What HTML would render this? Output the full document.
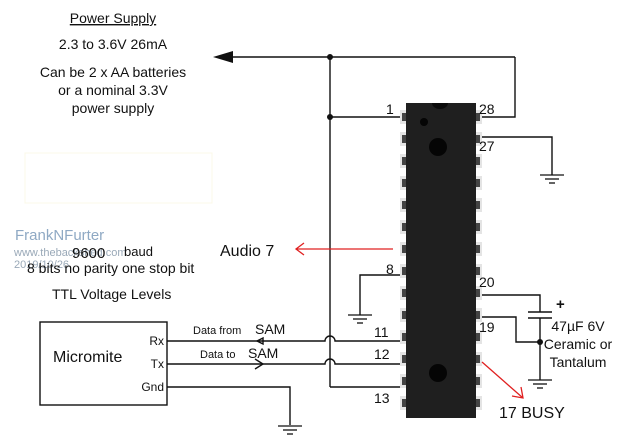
<!DOCTYPE html>
<html><head><style>body{margin:0;background:#fff}svg{display:block}text{font-family:"Liberation Sans",Arial,sans-serif;fill:#111}</style></head>
<body>
<svg width="640" height="448" viewBox="0 0 640 448" xmlns="http://www.w3.org/2000/svg">
<defs>
<g id="gnd"><line x1="-12" y1="0" x2="12" y2="0" stroke="#111" stroke-width="1.3"/><line x1="-7" y1="4" x2="7" y2="4" stroke="#111" stroke-width="1.3"/><line x1="-3" y1="8" x2="3" y2="8" stroke="#111" stroke-width="1.3"/></g>
<g id="pin"><rect x="0" y="0" width="6" height="14" fill="#e4e4e4"/><rect x="2" y="3" width="4" height="8" fill="#444"/></g>
<g id="pinr"><rect x="0" y="0" width="6" height="14" fill="#e4e4e4"/><rect x="0" y="3" width="4" height="8" fill="#444"/></g>
</defs>
<g font-size="14" text-anchor="middle">
<text x="113" y="23" text-decoration="underline">Power Supply</text>
<text x="113" y="49">2.3 to 3.6V 26mA</text>
<text x="113" y="77">Can be 2 x AA batteries</text>
<text x="113" y="95">or a nominal 3.3V</text>
<text x="113" y="113">power supply</text>
</g>
<rect x="25" y="153" width="187" height="50" fill="none" stroke="#fbf8e8"/>
<text x="15" y="240" font-size="15" style="fill:#8fa9c4">FrankNFurter</text>
<text x="14" y="256" font-size="11" style="fill:#9aa9b8">www.thebackshed.com</text>
<text x="14" y="268" font-size="11" style="fill:#9aa9b8">2019/10/26</text>
<text x="72" y="258" font-size="15">9600</text>
<text x="124" y="256" font-size="13">baud</text>
<text x="27" y="273" font-size="14">8 bits no parity one stop bit</text>
<text x="52" y="299" font-size="14">TTL Voltage Levels</text>
<text x="220" y="256" font-size="16">Audio 7</text>
<g stroke="#111" stroke-width="1.4" fill="none">
<line x1="232" y1="57" x2="515" y2="57"/>
<polyline points="515,57 515,117 478,117"/>
<line x1="330" y1="57" x2="330" y2="387"/>
<line x1="330" y1="117" x2="400" y2="117"/>
<polyline points="330,387 400,387"/>
<polyline points="478,137 552,137 552,175"/>
<polyline points="400,275 360,275 360,315"/>
<polyline points="478,295 540,295 540,312"/>
<line x1="528" y1="312" x2="552" y2="312"/>
<line x1="528" y1="318" x2="552" y2="318"/>
<polyline points="540,318 540,380"/>
<polyline points="478,317 516,317 516,342 540,342"/>
<rect x="40" y="322" width="127" height="83"/>
<path d="M167,341 H325 A5,5 0 0 1 335,341 H400"/>
<path d="M167,364 H325 A5,5 0 0 1 335,364 H400"/>
<polyline points="167,387 290,387 290,425"/>
<polyline points="255,359 263,364 255,369"/>
<polygon points="263,338 257,341 263,344"/>
</g>
<polygon points="213,57 233,51 233,63" fill="#111"/>
<circle cx="330" cy="57" r="3" fill="#111"/><circle cx="330" cy="117" r="3" fill="#111"/><circle cx="540" cy="342" r="3" fill="#111"/>
<use href="#gnd" x="552" y="175"/><use href="#gnd" x="360" y="315"/><use href="#gnd" x="540" y="380"/><use href="#gnd" x="290" y="426"/>
<text x="556" y="309" font-size="15" font-weight="bold">+</text>
<g font-size="14" text-anchor="middle"><text x="578" y="331">47µF 6V</text><text x="578" y="349">Ceramic or</text><text x="578" y="367">Tantalum</text></g>
<text x="53" y="362" font-size="16">Micromite</text>
<g font-size="12" text-anchor="end"><text x="164" y="345">Rx</text><text x="164" y="368">Tx</text><text x="164" y="391">Gnd</text></g>
<text x="193" y="334" font-size="11">Data from</text><text x="255" y="334" font-size="14">SAM</text>
<text x="200" y="358" font-size="11">Data to</text><text x="248" y="358" font-size="14">SAM</text>
<!-- chip pins -->
<g>
<use href="#pin" x="400" y="110"/><use href="#pin" x="400" y="132"/><use href="#pin" x="400" y="154"/><use href="#pin" x="400" y="176"/><use href="#pin" x="400" y="198"/><use href="#pin" x="400" y="220"/><use href="#pin" x="400" y="242"/><use href="#pin" x="400" y="264"/><use href="#pin" x="400" y="286"/><use href="#pin" x="400" y="308"/><use href="#pin" x="400" y="330"/><use href="#pin" x="400" y="352"/><use href="#pin" x="400" y="374"/><use href="#pin" x="400" y="396"/>
<use href="#pinr" x="476" y="110"/><use href="#pinr" x="476" y="132"/><use href="#pinr" x="476" y="154"/><use href="#pinr" x="476" y="176"/><use href="#pinr" x="476" y="198"/><use href="#pinr" x="476" y="220"/><use href="#pinr" x="476" y="242"/><use href="#pinr" x="476" y="264"/><use href="#pinr" x="476" y="286"/><use href="#pinr" x="476" y="308"/><use href="#pinr" x="476" y="330"/><use href="#pinr" x="476" y="352"/><use href="#pinr" x="476" y="374"/><use href="#pinr" x="476" y="396"/>
</g>
<rect x="406" y="103" width="70" height="315" fill="#1f1f1f"/>
<path d="M432,103 a8,6 0 0 0 16,0z" fill="#0a0a0a"/>
<circle cx="424" cy="122" r="4" fill="#050505"/>
<circle cx="438" cy="147" r="9" fill="#050505"/>
<circle cx="438" cy="373" r="9" fill="#050505"/>
<g font-size="14">
<text x="386" y="114">1</text><text x="386" y="274">8</text><text x="374" y="337">11</text><text x="374" y="359">12</text><text x="374" y="403">13</text>
<text x="479" y="114">28</text><text x="479" y="151">27</text><text x="479" y="287">20</text><text x="479" y="332">19</text>
</g>
<text x="499" y="418" font-size="16">17 BUSY</text>
<g stroke="#e02020" stroke-width="1.3" fill="none">
<line x1="296" y1="249" x2="393" y2="249"/>
<polyline points="304,243 296,249 304,255"/>
<line x1="482" y1="362" x2="523" y2="398"/>
<polyline points="512,396 523,398 521,387"/>
</g>
</svg>
</body></html>
